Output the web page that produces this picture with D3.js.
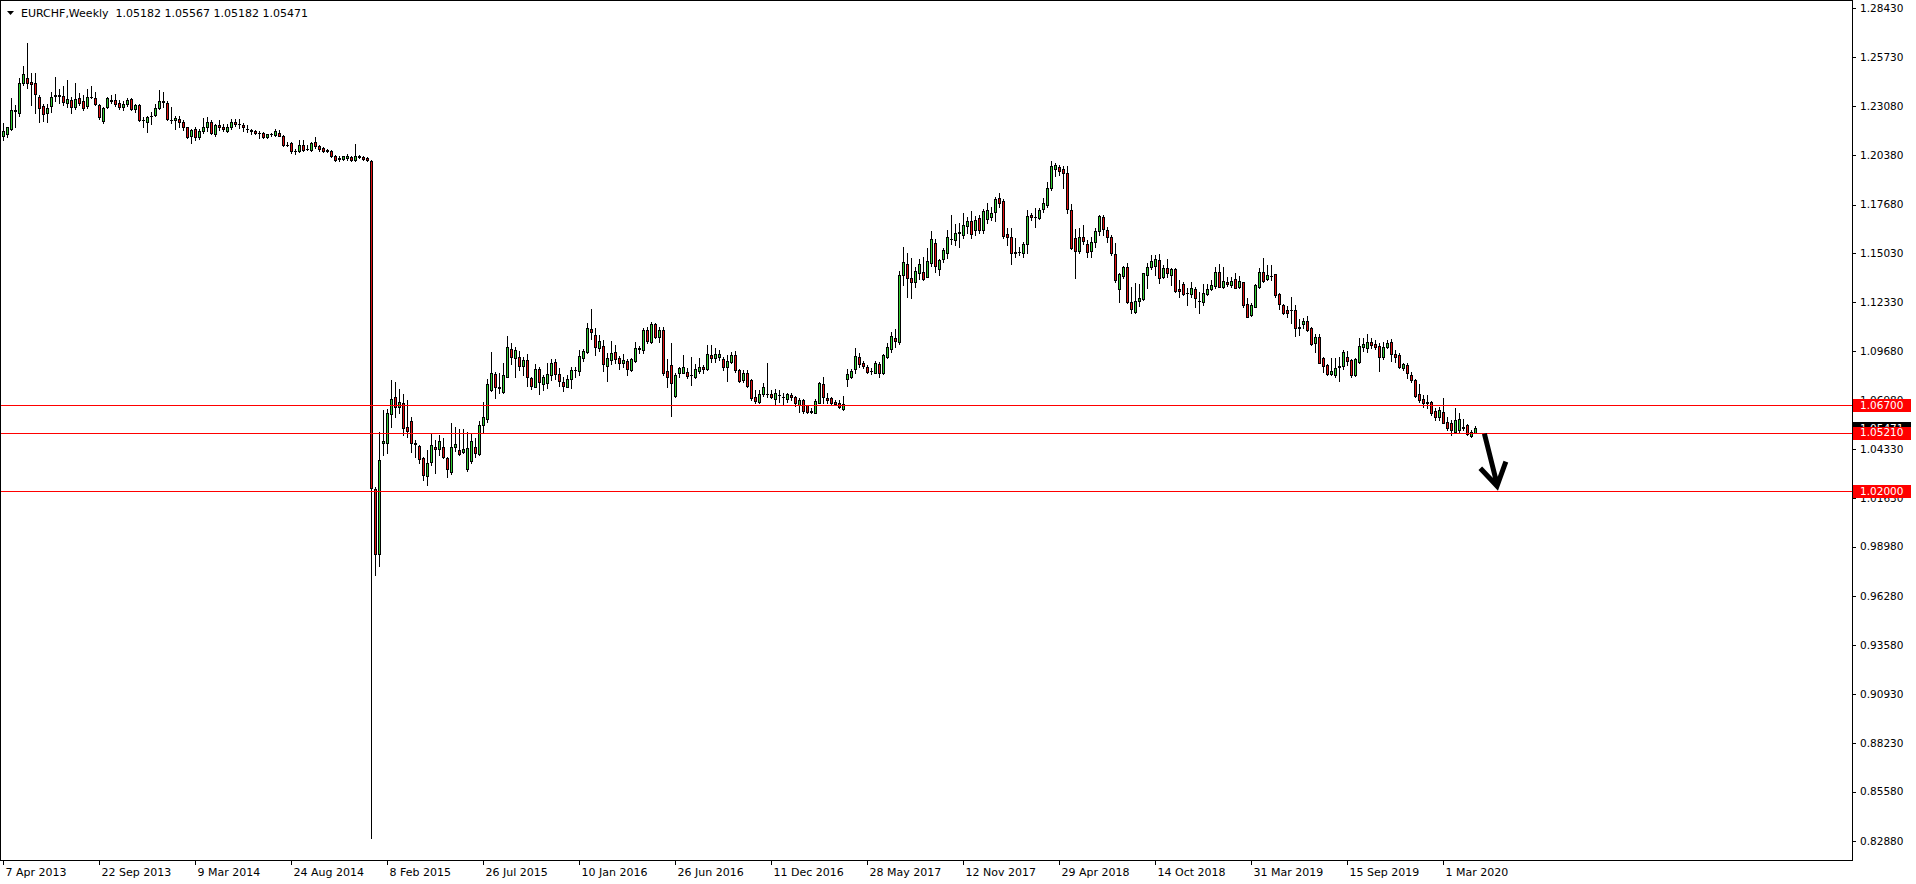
<!DOCTYPE html>
<html><head><meta charset="utf-8">
<script src="https://cdn.jsdelivr.net/npm/d3@7"></script>
<style>body{margin:0;background:#fff;overflow:hidden}svg{display:block}text{font-family:"DejaVu Sans",sans-serif}</style>
</head><body>
<svg id="chart" width="1916" height="884"></svg>
<script>
const symbolTitle = "EURCHF,Weekly";
const titleOHLC = ["1.05182", "1.05567", "1.05182", "1.05471"];

const opens = [1.2144,1.2152,1.2182,1.2284,1.2268,1.2435,1.2459,1.2439,1.2432,1.2355,
1.2308,1.2268,1.2308,1.2362,1.2366,1.2364,1.2326,1.2341,1.2299,1.2350,
1.2332,1.2308,1.2355,1.2350,1.2312,1.2226,1.2301,1.2341,1.2341,1.2323,
1.2299,1.2317,1.2343,1.2290,1.2314,1.2230,1.2217,1.2250,1.2259,1.2295,
1.2335,1.2324,1.2233,1.2228,1.2235,1.2221,1.2192,1.2141,1.2184,1.2137,
1.2172,1.2190,1.2219,1.2153,1.2204,1.2195,1.2173,1.2193,1.2219,1.2208,
1.2203,1.2184,1.2177,1.2172,1.2160,1.2159,1.2137,1.2152,1.2150,1.2162,
1.2144,1.2094,1.2104,1.2061,1.2059,1.2093,1.2070,1.2068,1.2110,1.2086,
1.2077,1.2068,1.2062,1.2033,1.2020,1.2017,1.2021,1.2028,1.2013,1.2033,
1.2026,1.2022,1.2008,1.0215,0.9860,1.0462,1.0462,1.0621,1.0714,1.0663,
1.0681,1.0550,1.0584,1.0465,1.0448,1.0380,1.0283,1.0362,1.0440,1.0429,
1.0440,1.0380,1.0307,1.0440,1.0426,1.0417,1.0320,1.0367,1.0440,1.0402,
1.0562,1.0593,1.0754,1.0839,1.0768,1.0745,1.0827,1.0976,1.0930,1.0936,
1.0887,1.0918,1.0818,1.0772,1.0867,1.0785,1.0790,1.0836,1.0907,1.0841,
1.0796,1.0772,1.0814,1.0861,1.0860,1.0927,1.0964,1.1089,1.1055,1.0982,
1.0995,1.0887,1.0918,1.0962,1.0927,1.0903,1.0914,1.0863,1.0912,1.0980,
1.0973,1.1082,1.1018,1.1115,1.1045,1.1082,1.0858,1.0889,1.0721,1.0845,
1.0849,1.0851,1.0835,1.0823,1.0858,1.0878,1.0867,1.0944,1.0931,1.0936,
1.0922,1.0882,1.0909,1.0944,1.0862,1.0809,1.0845,1.0809,1.0718,1.0690,
1.0730,1.0733,1.0730,1.0705,1.0725,1.0716,1.0705,1.0725,1.0714,1.0672,
1.0700,1.0670,1.0636,1.0630,1.0685,1.0785,1.0709,1.0709,1.0687,1.0681,
1.0648,1.0812,1.0827,1.0869,1.0933,1.0900,1.0882,1.0856,1.0849,1.0896,
1.0845,1.0936,1.0977,1.1037,1.1019,1.1383,1.1441,1.1365,1.1347,1.1396,
1.1398,1.1374,1.1447,1.1556,1.1418,1.1469,1.1505,1.1578,1.1575,1.1611,
1.1602,1.1651,1.1679,1.1629,1.1693,1.1629,1.1688,1.1702,1.1726,1.1802,
1.1788,1.1607,1.1589,1.1507,1.1510,1.1505,1.1551,1.1711,1.1700,1.1693,
1.1743,1.1766,1.1857,1.1961,1.1972,1.1961,1.1939,1.1738,1.1583,1.1516,
1.1589,1.1550,1.1516,1.1561,1.1623,1.1698,1.1629,1.1589,1.1496,1.1304,
1.1379,1.1425,1.1237,1.1183,1.1241,1.1250,1.1384,1.1425,1.1432,1.1465,
1.1370,1.1420,1.1383,1.1414,1.1305,1.1332,1.1286,1.1277,1.1305,1.1243,
1.1237,1.1279,1.1305,1.1325,1.1398,1.1319,1.1343,1.1328,1.1363,1.1319,
1.1343,1.1223,1.1164,1.1210,1.1319,1.1398,1.1359,1.1380,1.1386,1.1279,
1.1219,1.1192,1.1190,1.1192,1.1097,1.1115,1.1131,1.1091,1.1013,1.1042,
1.0927,1.0891,1.0842,1.0836,1.0878,1.0885,1.0933,1.0918,1.0836,1.0909,
1.0991,1.0982,1.1015,1.1006,1.0995,1.0936,1.0991,1.1015,1.0951,1.0944,
1.0873,1.0891,1.0836,1.0809,1.0732,1.0703,1.0690,1.0690,1.0639,1.0605,
1.0632,1.0577,1.0572,1.0526,1.0535,1.0548,1.0563,1.0502,1.05182];

const highs = [1.2213,1.2195,1.2350,1.2314,1.2459,1.2526,1.2654,1.2486,1.2486,1.2368,
1.2319,1.2319,1.2385,1.2465,1.2399,1.2417,1.2450,1.2359,1.2432,1.2377,
1.2366,1.2399,1.2414,1.2385,1.2319,1.2301,1.2354,1.2366,1.2374,1.2341,
1.2332,1.2350,1.2350,1.2319,1.2319,1.2246,1.2253,1.2277,1.2319,1.2392,
1.2383,1.2332,1.2301,1.2253,1.2250,1.2228,1.2195,1.2184,1.2190,1.2181,
1.2241,1.2246,1.2228,1.2208,1.2228,1.2206,1.2208,1.2235,1.2235,1.2235,
1.2213,1.2201,1.2182,1.2177,1.2168,1.2164,1.2155,1.2159,1.2184,1.2177,
1.2150,1.2108,1.2111,1.2071,1.2122,1.2122,1.2095,1.2110,1.2137,1.2095,
1.2082,1.2071,1.2068,1.2041,1.2035,1.2035,1.2044,1.2035,1.2101,1.2041,
1.2033,1.2028,1.2012,1.0224,1.0526,1.0644,1.0648,1.0808,1.0796,1.0757,
1.0732,1.0699,1.0604,1.0480,1.0453,1.0389,1.0426,1.0520,1.0480,1.0506,
1.0489,1.0386,1.0572,1.0550,1.0542,1.0542,1.0524,1.0520,1.0493,1.0584,
1.0686,1.0812,1.0962,1.0854,1.0845,1.0900,1.1049,1.1009,1.0991,1.0967,
1.0936,1.0949,1.0823,1.0896,1.0881,1.0834,1.0900,1.0923,1.0922,1.0872,
1.0823,1.0836,1.0881,1.0881,1.0973,1.0976,1.1118,1.1197,1.1095,1.1055,
1.1027,1.0954,1.1024,1.1000,1.0942,1.0951,1.0923,1.0929,1.1018,1.0995,
1.1091,1.1100,1.1124,1.1122,1.1100,1.1100,1.0923,1.1013,1.0845,1.0881,
1.0945,1.0872,1.0936,1.0896,1.0927,1.0890,1.1000,1.1000,1.0982,1.0973,
1.0936,1.0945,1.0964,1.0969,1.0867,1.0864,1.0864,1.0812,1.0754,1.0754,
1.0791,1.0900,1.0754,1.0758,1.0754,1.0736,1.0740,1.0740,1.0721,1.0709,
1.0703,1.0672,1.0654,1.0703,1.0800,1.0823,1.0736,1.0718,1.0700,1.0700,
1.0721,1.0867,1.0869,1.0982,1.0958,1.0915,1.0891,1.0873,1.0915,1.0909,
1.0951,1.1009,1.1073,1.1086,1.1407,1.1538,1.1505,1.1474,1.1425,1.1469,
1.1480,1.1529,1.1624,1.1578,1.1471,1.1533,1.1629,1.1711,1.1660,1.1669,
1.1720,1.1699,1.1735,1.1706,1.1711,1.1742,1.1775,1.1753,1.1812,1.1830,
1.1797,1.1638,1.1638,1.1584,1.1538,1.1565,1.1738,1.1720,1.1748,1.1748,
1.1802,1.1890,1.2006,1.1997,1.1984,1.1979,1.1979,1.1771,1.1633,1.1638,
1.1656,1.1574,1.1589,1.1638,1.1711,1.1711,1.1643,1.1602,1.1556,1.1396,
1.1432,1.1450,1.1319,1.1341,1.1334,1.1396,1.1450,1.1493,1.1493,1.1498,
1.1438,1.1469,1.1420,1.1420,1.1356,1.1347,1.1310,1.1347,1.1319,1.1292,
1.1334,1.1334,1.1356,1.1429,1.1443,1.1429,1.1374,1.1374,1.1392,1.1378,
1.1347,1.1255,1.1228,1.1334,1.1423,1.1474,1.1438,1.1438,1.1390,1.1286,
1.1223,1.1214,1.1264,1.1219,1.1140,1.1146,1.1159,1.1100,1.1060,1.1060,
1.0936,1.0896,1.0927,1.0927,1.0936,1.0973,1.0969,1.0922,1.0927,1.1037,
1.1037,1.1060,1.1037,1.1027,1.1009,1.1018,1.1027,1.1031,1.0973,1.0955,
1.0903,1.0900,1.0854,1.0813,1.0787,1.0727,1.0727,1.0696,1.0654,1.0659,
1.0708,1.0608,1.0590,1.0654,1.0627,1.0594,1.0568,1.0535,1.05567];

const lows = [1.2122,1.2137,1.2177,1.2195,1.2250,1.2423,1.2405,1.2314,1.2268,1.2217,
1.2223,1.2217,1.2277,1.2337,1.2323,1.2314,1.2304,1.2268,1.2292,1.2314,
1.2286,1.2295,1.2350,1.2312,1.2235,1.2213,1.2295,1.2326,1.2308,1.2290,
1.2286,1.2308,1.2283,1.2277,1.2223,1.2195,1.2164,1.2208,1.2250,1.2290,
1.2301,1.2228,1.2213,1.2184,1.2195,1.2177,1.2130,1.2104,1.2119,1.2128,
1.2162,1.2168,1.2155,1.2144,1.2177,1.2168,1.2166,1.2184,1.2199,1.2186,
1.2168,1.2164,1.2155,1.2155,1.2132,1.2132,1.2132,1.2144,1.2144,1.2141,
1.2086,1.2090,1.2050,1.2044,1.2053,1.2059,1.2064,1.2059,1.2077,1.2062,
1.2055,1.2053,1.2026,1.2008,1.2008,1.2010,1.2013,1.2004,1.2006,1.2022,
1.2013,1.2004,0.8305,0.9745,0.9790,1.0398,1.0411,1.0550,1.0608,1.0626,
1.0508,1.0495,1.0417,1.0389,1.0356,1.0262,1.0234,1.0344,1.0302,1.0398,
1.0380,1.0276,1.0294,1.0422,1.0398,1.0407,1.0313,1.0353,1.0389,1.0398,
1.0526,1.0581,1.0750,1.0708,1.0736,1.0736,1.0823,1.0896,1.0823,1.0863,
1.0836,1.0776,1.0757,1.0769,1.0730,1.0754,1.0763,1.0808,1.0814,1.0778,
1.0750,1.0769,1.0763,1.0823,1.0836,1.0914,1.0958,1.1031,1.0945,1.0969,
1.0860,1.0805,1.0896,1.0903,1.0869,1.0881,1.0836,1.0860,1.0909,1.0954,
1.0954,1.1013,1.1013,1.1036,1.1018,1.0836,1.0769,1.0612,1.0717,1.0827,
1.0845,1.0818,1.0781,1.0818,1.0845,1.0845,1.0863,1.0909,1.0909,1.0918,
1.0864,1.0805,1.0900,1.0854,1.0800,1.0800,1.0772,1.0700,1.0681,1.0681,
1.0721,1.0718,1.0709,1.0672,1.0690,1.0672,1.0690,1.0700,1.0667,1.0636,
1.0627,1.0627,1.0627,1.0627,1.0681,1.0681,1.0681,1.0672,1.0672,1.0654,
1.0645,1.0776,1.0818,1.0845,1.0882,1.0873,1.0845,1.0842,1.0845,1.0827,
1.0842,1.0927,1.0964,1.0991,1.1006,1.1328,1.1261,1.1255,1.1319,1.1359,
1.1356,1.1370,1.1433,1.1402,1.1383,1.1456,1.1474,1.1553,1.1547,1.1538,
1.1584,1.1611,1.1584,1.1602,1.1611,1.1611,1.1666,1.1684,1.1680,1.1757,
1.1584,1.1547,1.1441,1.1483,1.1492,1.1480,1.1505,1.1684,1.1648,1.1688,
1.1730,1.1757,1.1848,1.1924,1.1930,1.1860,1.1724,1.1523,1.1365,1.1501,
1.1552,1.1479,1.1483,1.1534,1.1602,1.1602,1.1565,1.1492,1.1347,1.1237,
1.1365,1.1232,1.1173,1.1177,1.1213,1.1246,1.1310,1.1414,1.1383,1.1341,
1.1365,1.1374,1.1328,1.1292,1.1261,1.1274,1.1219,1.1265,1.1210,1.1173,
1.1219,1.1272,1.1301,1.1310,1.1315,1.1310,1.1325,1.1319,1.1310,1.1310,
1.1210,1.1151,1.1159,1.1206,1.1314,1.1347,1.1356,1.1356,1.1265,1.1195,
1.1170,1.1155,1.1119,1.1049,1.1055,1.1091,1.1078,1.1000,1.0964,1.0900,
1.0854,1.0836,1.0836,1.0827,1.0805,1.0867,1.0891,1.0827,1.0831,1.0903,
1.0969,1.0964,1.0982,1.0976,1.0860,1.0922,1.0982,1.0914,1.0909,1.0873,
1.0863,1.0818,1.0800,1.0718,1.0690,1.0663,1.0654,1.0617,1.0590,1.0590,
1.0572,1.0535,1.0508,1.0517,1.0526,1.0535,1.0508,1.0495,1.05182];

const closes = [1.2168,1.2190,1.2286,1.2278,1.2432,1.2483,1.2432,1.2428,1.2372,1.2295,
1.2263,1.2295,1.2355,1.2366,1.2362,1.2328,1.2344,1.2299,1.2344,1.2326,
1.2295,1.2354,1.2359,1.2319,1.2246,1.2295,1.2350,1.2337,1.2317,1.2301,
1.2319,1.2339,1.2292,1.2314,1.2232,1.2228,1.2246,1.2253,1.2295,1.2335,
1.2330,1.2235,1.2230,1.2241,1.2219,1.2195,1.2137,1.2177,1.2135,1.2172,
1.2192,1.2219,1.2159,1.2201,1.2192,1.2182,1.2195,1.2221,1.2208,1.2206,
1.2190,1.2182,1.2168,1.2162,1.2158,1.2137,1.2152,1.2154,1.2168,1.2144,
1.2092,1.2096,1.2059,1.2063,1.2093,1.2068,1.2072,1.2104,1.2086,1.2071,
1.2062,1.2059,1.2032,1.2013,1.2022,1.2032,1.2035,1.2010,1.2035,1.2030,
1.2017,1.2010,1.0220,0.9860,1.0371,1.0475,1.0626,1.0703,1.0663,1.0686,
1.0544,1.0531,1.0462,1.0460,1.0375,1.0289,1.0356,1.0451,1.0429,1.0477,
1.0389,1.0320,1.0440,1.0458,1.0402,1.0429,1.0435,1.0473,1.0411,1.0561,
1.0604,1.0785,1.0845,1.0772,1.0765,1.0834,1.0987,1.0932,1.0972,1.0887,
1.0918,1.0823,1.0778,1.0867,1.0800,1.0823,1.0839,1.0900,1.0839,1.0805,
1.0778,1.0814,1.0863,1.0865,1.0940,1.0969,1.1093,1.1069,1.0987,1.1022,
1.0894,1.0927,1.0958,1.0922,1.0903,1.0918,1.0870,1.0923,1.0982,1.0982,
1.1082,1.1024,1.1115,1.1045,1.1082,1.0849,1.0823,1.0794,1.0834,1.0872,
1.0878,1.0832,1.0836,1.0867,1.0878,1.0867,1.0951,1.0931,1.0951,1.0951,
1.0882,1.0915,1.0944,1.0862,1.0805,1.0845,1.0778,1.0709,1.0696,1.0730,
1.0769,1.0731,1.0714,1.0736,1.0727,1.0714,1.0730,1.0714,1.0681,1.0700,
1.0641,1.0636,1.0638,1.0696,1.0791,1.0714,1.0700,1.0681,1.0678,1.0663,
1.0676,1.0840,1.0858,1.0940,1.0896,1.0885,1.0854,1.0858,1.0900,1.0845,
1.0945,1.0987,1.1049,1.1024,1.1383,1.1452,1.1368,1.1343,1.1405,1.1441,
1.1359,1.1460,1.1578,1.1434,1.1465,1.1520,1.1589,1.1580,1.1615,1.1618,
1.1657,1.1679,1.1606,1.1684,1.1629,1.1733,1.1739,1.1724,1.1799,1.1775,
1.1598,1.1593,1.1505,1.1505,1.1509,1.1553,1.1706,1.1699,1.1702,1.1739,
1.1779,1.1857,1.1979,1.1984,1.1953,1.1942,1.1742,1.1529,1.1514,1.1589,
1.1571,1.1510,1.1561,1.1625,1.1705,1.1633,1.1589,1.1501,1.1356,1.1388,
1.1425,1.1237,1.1195,1.1241,1.1255,1.1392,1.1425,1.1460,1.1469,1.1365,
1.1420,1.1392,1.1414,1.1297,1.1297,1.1279,1.1283,1.1310,1.1255,1.1241,
1.1283,1.1305,1.1328,1.1398,1.1319,1.1350,1.1332,1.1350,1.1314,1.1350,
1.1219,1.1155,1.1219,1.1328,1.1398,1.1352,1.1383,1.1378,1.1274,1.1223,
1.1173,1.1177,1.1192,1.1095,1.1095,1.1133,1.1082,1.1007,1.1046,1.0903,
1.0885,1.0842,1.0858,1.0873,1.0885,1.0962,1.0914,1.0836,1.0922,1.0993,
1.1006,1.1015,1.1000,1.0987,1.0933,1.0991,1.1009,1.0949,1.0936,1.0882,
1.0894,1.0845,1.0809,1.0723,1.0699,1.0685,1.0681,1.0630,1.0608,1.0645,
1.0575,1.0544,1.0535,1.0590,1.0595,1.0550,1.0513,1.0526,1.05471];

const priceTicks = [1.28430,1.25730,1.23080,1.20380,1.17680,1.15030,1.12330,1.09680,1.06980,1.04330,1.01630,0.98980,0.96280,0.93580,0.90930,0.88230,0.85580,0.82880];
const dateTickLabels = ["7 Apr 2013","22 Sep 2013","9 Mar 2014","24 Aug 2014","8 Feb 2015","26 Jul 2015","10 Jan 2016","26 Jun 2016","11 Dec 2016","28 May 2017","12 Nov 2017","29 Apr 2018","14 Oct 2018","31 Mar 2019","15 Sep 2019","1 Mar 2020"];
const dateTickStep = 24;
const levelLines = [1.06700, 1.05210, 1.02000];
const lastPrice = 1.05471;

const W = 1916, H = 884;
const plotRight = 1852, plotBottom = 860;
const n = opens.length;
const x = d3.scaleLinear().domain([0, n - 1]).range([3, 3 + 4 * (n - 1)]);
const y = d3.scaleLinear().domain([0.82880, 1.28430]).range([841, 8]);

const bullColor = "#32cd32", bearColor = "#e01010", levelColor = "#ff0000";
const svg = d3.select("#chart");
svg.append("rect").attr("width", W).attr("height", H).attr("fill", "#fff");

svg.append("defs").append("clipPath").attr("id", "plotClip")
  .append("rect").attr("x", 1).attr("y", 1).attr("width", plotRight - 1).attr("height", plotBottom - 1);

const bars = d3.range(n).map(i => ({ i, o: opens[i], h: highs[i], l: lows[i], c: closes[i] }));
const plot = svg.append("g").attr("clip-path", "url(#plotClip)").attr("shape-rendering", "crispEdges");

// wicks
plot.append("g").selectAll("line").data(bars).join("line")
  .attr("x1", d => Math.round(x(d.i)) + 0.5).attr("x2", d => Math.round(x(d.i)) + 0.5)
  .attr("y1", d => Math.round(y(Math.max(d.h, d.o, d.c))))
  .attr("y2", d => Math.round(y(Math.min(d.l, d.o, d.c))) + 1)
  .attr("stroke", "#000").attr("stroke-width", 1);

// bodies
const bodyTop = d => Math.round(y(Math.max(d.o, d.c)));
const bodyH = d => Math.max(1, Math.round(y(Math.min(d.o, d.c))) - bodyTop(d) + 1);
plot.append("g").selectAll("rect").data(bars).join("rect")
  .attr("x", d => Math.round(x(d.i)) - 1).attr("width", 3)
  .attr("y", bodyTop).attr("height", bodyH).attr("fill", "#000");
plot.append("g").selectAll("rect").data(bars.filter(d => bodyH(d) > 2)).join("rect")
  .attr("x", d => Math.round(x(d.i))).attr("width", 1)
  .attr("y", d => bodyTop(d) + 1).attr("height", d => bodyH(d) - 2)
  .attr("fill", d => d.c >= d.o ? bullColor : bearColor);

// horizontal level lines
plot.append("g").selectAll("line").data(levelLines).join("line")
  .attr("x1", 1).attr("x2", plotRight)
  .attr("y1", d => Math.round(y(d)) + 0.5).attr("y2", d => Math.round(y(d)) + 0.5)
  .attr("stroke", levelColor).attr("stroke-width", 1);

// hand-drawn arrow annotation
svg.append("path").attr("d", "M1485,436 L1497,484 M1482,470 L1497,486 L1505,464")
  .attr("fill", "none").attr("stroke", "#000").attr("stroke-width", 5)
  .attr("stroke-linecap", "square").attr("stroke-linejoin", "miter");

// frame
svg.append("path").attr("d", `M0.5,0.5 H${plotRight + 0.5} V${plotBottom + 0.5} H0.5 Z`)
  .attr("fill", "none").attr("stroke", "#000").attr("shape-rendering", "crispEdges");

// price axis
const yAxis = d3.axisRight(y).tickValues(priceTicks).tickFormat(d3.format(".5f"))
  .tickSizeInner(4).tickSizeOuter(0).tickPadding(4);
const ya = svg.append("g").attr("transform", `translate(${plotRight},0)`).call(yAxis);
ya.select(".domain").remove();
ya.selectAll("line").attr("stroke", "#000").attr("shape-rendering", "crispEdges");
ya.selectAll("text").attr("font-family", "DejaVu Sans").attr("font-size", "10.5px").attr("fill", "#000");

// date axis
const xAxis = d3.axisBottom(x).tickValues(dateTickLabels.map((_, k) => k * dateTickStep))
  .tickFormat((d, k) => dateTickLabels[k]).tickSizeInner(5).tickSizeOuter(0).tickPadding(3);
const xa = svg.append("g").attr("transform", `translate(0,${plotBottom})`).call(xAxis);
xa.select(".domain").remove();
xa.selectAll("line").attr("stroke", "#000").attr("shape-rendering", "crispEdges");
xa.selectAll("text").attr("text-anchor", "start").attr("x", 2)
  .attr("font-family", "DejaVu Sans").attr("font-size", "11px").attr("fill", "#000");

// price labels (current price, then level labels on top)
function priceLabel(v, bg) {
  const yy = y(v);
  const g = svg.append("g");
  g.append("rect").attr("x", plotRight + 1).attr("y", Math.round(yy) - 6).attr("width", 58).attr("height", 13).attr("fill", bg);
  g.append("text").attr("x", 1860).attr("y", yy).attr("dy", "0.36em")
    .attr("font-size", "10.5px").attr("fill", "#fff").text(d3.format(".5f")(v));
}
priceLabel(lastPrice, "#000");
levelLines.forEach(v => priceLabel(v, levelColor));

// title
svg.append("path").attr("d", "M7,11 L14,11 L10.5,15 Z").attr("fill", "#000");
svg.append("text").attr("x", 21).attr("y", 17).attr("font-size", "11px").attr("fill", "#000")
  .style("white-space", "pre").text(symbolTitle + "  " + titleOHLC.join(" "));
</script>
</body></html>
